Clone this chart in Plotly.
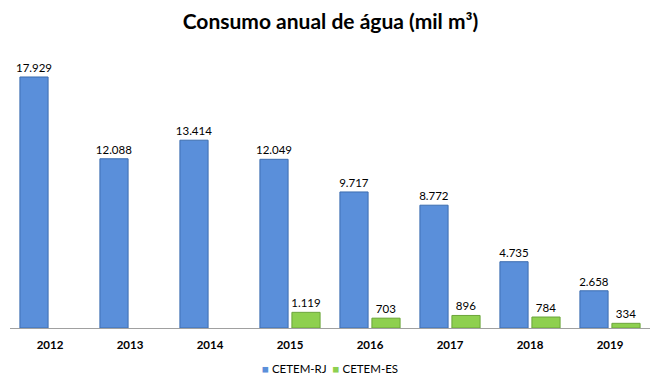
import plotly.graph_objects as go

years = ["2012", "2013", "2014", "2015", "2016", "2017", "2018", "2019"]
rj = [17929, 12088, 13414, 12049, 9717, 8772, 4735, 2658]
es = [None, None, None, 1119, 703, 896, 784, 334]
series_names = ["CETEM-RJ", "CETEM-ES"]
colors = ["#5A8FDA", "#8ED04F"]
edges = ["#3C6DB0", "#6BA53A"]

def fmt(v):
    return "" if v is None else f"{v:,}".replace(",", ".")

fig = go.Figure()
for name, vals, c, e in zip(series_names, [rj, es], colors, edges):
    fig.add_trace(go.Bar(
        x=years, y=vals, name=name,
        text=[fmt(v) for v in vals], textposition="outside",
        constraintext="none",
        textfont=dict(size=11.5, color="black", family="Lato"),
        marker=dict(color=c, line=dict(color=e, width=1)),
        cliponaxis=False, showlegend=False,
    ))

legend_text = "  ".join(
    f'<span style="color:{c}">■</span> {n}' for n, c in zip(series_names, colors)
)
fig.add_annotation(text=legend_text, xref="paper", yref="paper", x=0.5, y=-0.146,
                   xanchor="center", yanchor="middle", showarrow=False,
                   font=dict(size=11.5, color="black", family="Lato"))

fig.update_layout(
    width=661, height=388,
    margin=dict(l=10, r=11, t=48, b=60, autoexpand=False),
    paper_bgcolor="white", plot_bgcolor="white",
    barmode="group", bargap=0.2, bargroupgap=0.12,
    title=dict(text="<b>Consumo anual de água (mil m³)</b>", x=0.5, xanchor="center",
               y=0.945, yanchor="middle",
               font=dict(size=21, color="black", family="Lato")),
    font=dict(family="Lato", size=11, color="black"),
    xaxis=dict(showline=True, linecolor="#A0A0A0", linewidth=1, ticks="",
               tickfont=dict(size=11.5, color="black", family="Lato"),
               ticklabelstandoff=6, automargin=False,
               tickvals=years, ticktext=[f"<b>{y}</b>" for y in years]),
    yaxis=dict(range=[0, 20000], visible=False, showgrid=False, automargin=False),
)

fig.write_html("out.html", config={"displayModeBar": False},
               post_script="document.body.style.margin='0';")
